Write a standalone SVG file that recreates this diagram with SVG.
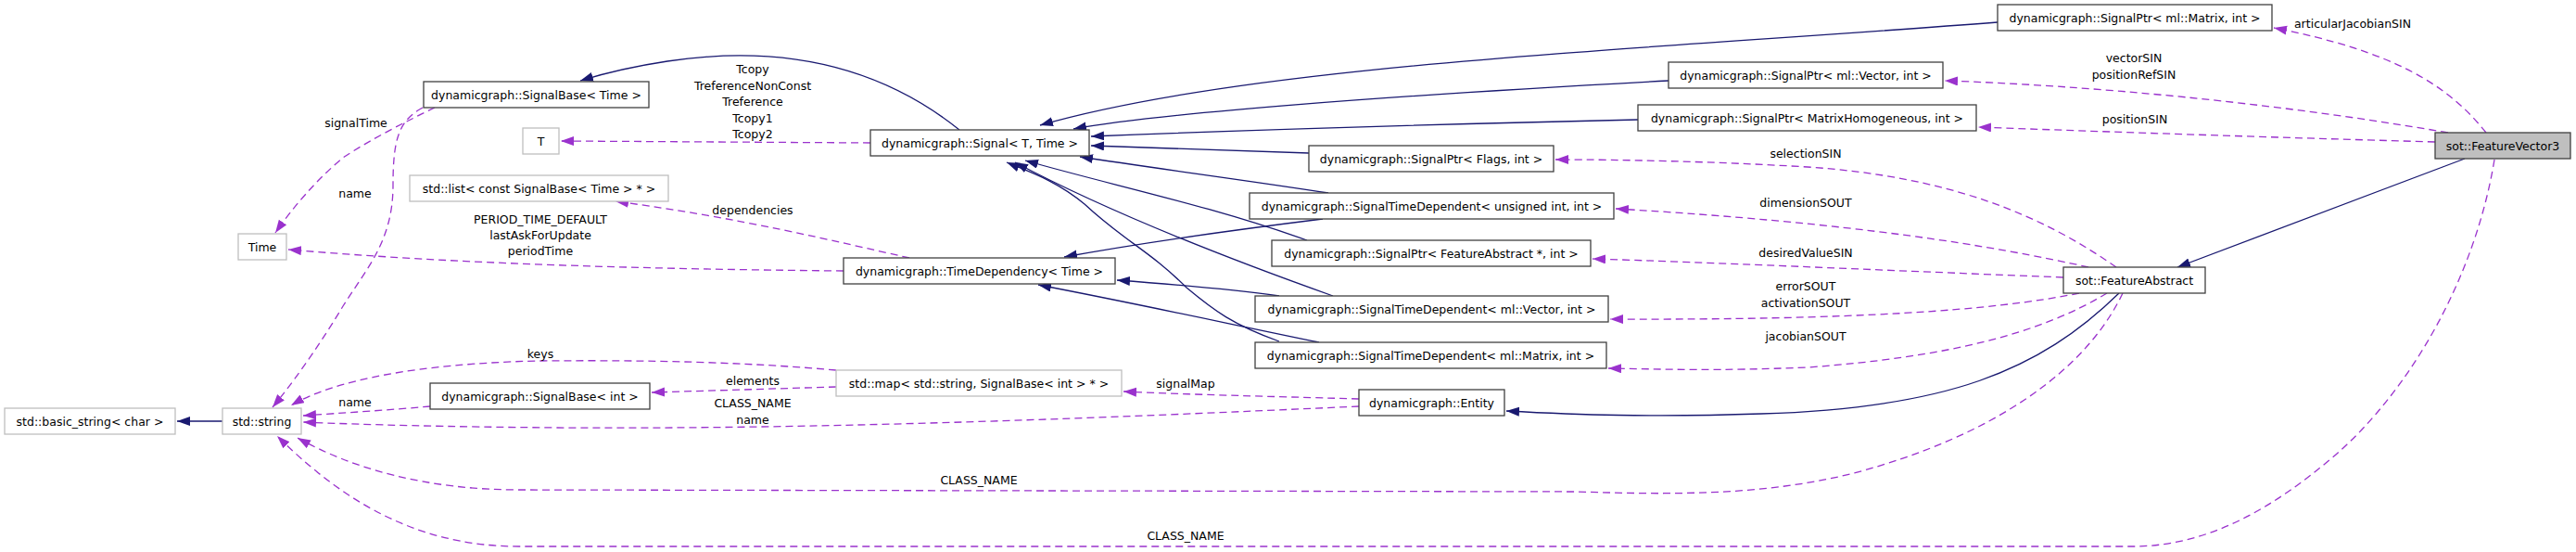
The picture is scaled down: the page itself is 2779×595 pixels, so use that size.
<svg xmlns="http://www.w3.org/2000/svg" width="2779" height="595" viewBox="0 0 2779 595">
<style>
text{font-family:"DejaVu Sans","Liberation Sans",sans-serif;font-size:12.5px;fill:#000;text-anchor:middle}
.n rect{fill:#fff;stroke:#404040;stroke-width:1.3}
.g rect{fill:#fff;stroke:#bfbfbf;stroke-width:1.3}
.cur rect{fill:#bfbfbf;stroke:#404040;stroke-width:1.3}
.inh{fill:none;stroke:#191970;stroke-width:1.3;marker-end:url(#ab)}
.use{fill:none;stroke:#9a32cd;stroke-width:1.3;stroke-dasharray:8,5;marker-end:url(#ap)}
</style>
<defs>
<marker id="ab" markerUnits="userSpaceOnUse" markerWidth="15" markerHeight="11" refX="14" refY="5" orient="auto"><path d="M0,0 L14,5 L0,10 z" fill="#191970"/></marker>
<marker id="ap" markerUnits="userSpaceOnUse" markerWidth="15" markerHeight="11" refX="14" refY="5" orient="auto"><path d="M0,0 L14,5 L0,10 z" fill="#9a32cd"/></marker>
</defs>
<rect width="2779" height="595" fill="#fff"/>
<g id="connectors">
<!-- inheritance -->
<path class="inh" d="M2659,171 L2349,288"/>
<path class="inh" d="M2286,316 C2200,400 2100,440 1900,446 C1780,450 1700,447 1625,443"/>
<path class="inh" d="M2155,24 C1750,55 1350,70 1122,135"/>
<path class="inh" d="M1800,87 C1500,103 1250,122 1158,139"/>
<path class="inh" d="M1767,129 Q1450,136 1177,147"/>
<path class="inh" d="M1412,165 L1177,157"/>
<path class="inh" d="M1433,208 C1350,195 1250,182 1165,169"/>
<path class="inh" d="M1410,259 C1300,220 1200,200 1106,173"/>
<path class="inh" d="M1438,319 C1300,270 1180,220 1095,175"/>
<path class="inh" d="M1380,368 C1330,350 1310,335 1280,310 C1240,270 1213,260 1170,220 C1140,195 1110,185 1086,175"/>
<path class="inh" d="M1427,236 C1330,248 1230,262 1148,277"/>
<path class="inh" d="M1380,319 C1330,312 1260,306 1205,302"/>
<path class="inh" d="M1423,369 C1330,350 1230,328 1120,307"/>
<path class="inh" d="M1035,140 C960,80 860,45 720,66 C680,72 655,78 626,87"/>
<path class="inh" d="M240,454 L191,454"/>
<!-- usage -->
<path class="use" d="M2682,143 C2640,90 2580,55 2453,30"/>
<path class="use" d="M2641,143 C2450,110 2250,92 2098,87"/>
<path class="use" d="M2627,153 C2450,148 2300,143 2134,137"/>
<path class="use" d="M2691,172 C2670,300 2600,420 2520,490 C2450,550 2380,589 2300,589 L560,589 C440,589 360,530 299,470"/>
<path class="use" d="M2283,288 C2200,230 2100,190 1950,180 C1850,174 1750,172 1678,172"/>
<path class="use" d="M2253,288 C2150,265 2000,240 1743,225"/>
<path class="use" d="M2226,299 C2000,290 1850,283 1718,279"/>
<path class="use" d="M2243,316 C2150,335 2000,345 1737,344"/>
<path class="use" d="M2273,316 C2200,360 2100,385 1950,396 C1850,400 1800,398 1735,397"/>
<path class="use" d="M2290,316 C2250,400 2150,470 2000,510 C1900,535 1800,533 1700,530 L560,528 C460,528 380,505 321,472"/>
<path class="use" d="M1466,430 C1400,428 1300,426 1212,422"/>
<path class="use" d="M1466,438 C1200,450 900,463 600,461 C480,460 400,458 327,455"/>
<path class="use" d="M902,399 C800,390 700,388 580,389 C450,392 360,410 314,437"/>
<path class="use" d="M902,417 L703,423"/>
<path class="use" d="M464,438 C420,442 370,445 327,448"/>
<path class="use" d="M469,116 C440,130 400,150 370,170 C340,195 315,225 297,251"/>
<path class="use" d="M456,116 C430,130 424,150 424,200 C424,260 395,290 370,330 C340,380 310,420 294,439"/>
<path class="use" d="M981,278 C900,260 800,235 664,217"/>
<path class="use" d="M910,292 C700,290 500,285 311,269"/>
<path class="use" d="M939,154 L605,152"/>
<!-- labels -->
<text x="2538" y="30">articularJacobianSIN</text>
<text x="2302" y="67">vectorSIN</text>
<text x="2302" y="85">positionRefSIN</text>
<text x="2303" y="133">positionSIN</text>
<text x="1948" y="170">selectionSIN</text>
<text x="1948" y="223">dimensionSOUT</text>
<text x="1948" y="277">desiredValueSIN</text>
<text x="1948" y="313">errorSOUT</text>
<text x="1948" y="331">activationSOUT</text>
<text x="1948" y="367">jacobianSOUT</text>
<text x="1279" y="418">signalMap</text>
<text x="1056" y="522">CLASS_NAME</text>
<text x="1279" y="582">CLASS_NAME</text>
<text x="812" y="79">Tcopy</text>
<text x="812" y="96.5">TreferenceNonConst</text>
<text x="812" y="114">Treference</text>
<text x="812" y="131.5">Tcopy1</text>
<text x="812" y="149">Tcopy2</text>
<text x="812" y="231">dependencies</text>
<text x="812" y="415">elements</text>
<text x="812" y="439">CLASS_NAME</text>
<text x="812" y="457">name</text>
<text x="583" y="241">PERIOD_TIME_DEFAULT</text>
<text x="583" y="258">lastAskForUpdate</text>
<text x="583" y="275">periodTime</text>
<text x="583" y="386">keys</text>
<text x="384" y="137">signalTime</text>
<text x="383" y="213">name</text>
<text x="383" y="438">name</text>
</g>
<g id="FeatureVector3" class="cur"><rect x="2627" y="143" width="146" height="28"/><text x="2700" y="161.5">sot::FeatureVector3</text></g>
<g id="FeatureAbstract" class="n"><rect x="2226" y="288" width="153" height="28"/><text x="2302.5" y="306.5">sot::FeatureAbstract</text></g>
<g id="SignalPtrMatrix" class="n"><rect x="2155" y="5" width="296" height="28"/><text x="2303" y="23.5">dynamicgraph::SignalPtr&lt; ml::Matrix, int &gt;</text></g>
<g id="SignalPtrVector" class="n"><rect x="1800" y="67" width="296" height="28"/><text x="1948" y="85.5">dynamicgraph::SignalPtr&lt; ml::Vector, int &gt;</text></g>
<g id="SignalPtrMatrixHomogeneous" class="n"><rect x="1767" y="113" width="365" height="28"/><text x="1949.5" y="131.5">dynamicgraph::SignalPtr&lt; MatrixHomogeneous, int &gt;</text></g>
<g id="SignalPtrFlags" class="n"><rect x="1412" y="157" width="264" height="28"/><text x="1544" y="175.5">dynamicgraph::SignalPtr&lt; Flags, int &gt;</text></g>
<g id="SignalTimeDependentUInt" class="n"><rect x="1348" y="208" width="393" height="28"/><text x="1544.5" y="226.5">dynamicgraph::SignalTimeDependent&lt; unsigned int, int &gt;</text></g>
<g id="SignalPtrFeatureAbstract" class="n"><rect x="1372" y="259" width="344" height="28"/><text x="1544" y="277.5">dynamicgraph::SignalPtr&lt; FeatureAbstract *, int &gt;</text></g>
<g id="SignalTimeDependentVector" class="n"><rect x="1354" y="319" width="381" height="28"/><text x="1544.5" y="337.5">dynamicgraph::SignalTimeDependent&lt; ml::Vector, int &gt;</text></g>
<g id="SignalTimeDependentMatrix" class="n"><rect x="1354" y="369" width="379" height="28"/><text x="1543.5" y="387.5">dynamicgraph::SignalTimeDependent&lt; ml::Matrix, int &gt;</text></g>
<g id="Entity" class="n"><rect x="1466" y="420" width="157" height="28"/><text x="1544.5" y="438.5">dynamicgraph::Entity</text></g>
<g id="Signal" class="n"><rect x="939" y="140" width="236" height="28"/><text x="1057" y="158.5">dynamicgraph::Signal&lt; T, Time &gt;</text></g>
<g id="TimeDependency" class="n"><rect x="910" y="278" width="293" height="28"/><text x="1056.5" y="296.5">dynamicgraph::TimeDependency&lt; Time &gt;</text></g>
<g id="StdMap" class="g"><rect x="902" y="399" width="308" height="28"/><text x="1056" y="417.5">std::map&lt; std::string, SignalBase&lt; int &gt; * &gt;</text></g>
<g id="SignalBaseTime" class="n"><rect x="457" y="88" width="243" height="28"/><text x="578.5" y="106.5">dynamicgraph::SignalBase&lt; Time &gt;</text></g>
<g id="T" class="g"><rect x="564" y="138" width="39" height="28"/><text x="583.5" y="156.5">T</text></g>
<g id="StdList" class="g"><rect x="442" y="189" width="279" height="28"/><text x="581.5" y="207.5">std::list&lt; const SignalBase&lt; Time &gt; * &gt;</text></g>
<g id="Time" class="g"><rect x="257" y="252" width="52" height="28"/><text x="283" y="270.5">Time</text></g>
<g id="SignalBaseInt" class="n"><rect x="464" y="413" width="237" height="28"/><text x="582.5" y="431.5">dynamicgraph::SignalBase&lt; int &gt;</text></g>
<g id="StdString" class="g"><rect x="240" y="440" width="85" height="28"/><text x="282.5" y="458.5">std::string</text></g>
<g id="BasicString" class="g"><rect x="5" y="440" width="184" height="28"/><text x="97" y="458.5">std::basic_string&lt; char &gt;</text></g>
</svg>
